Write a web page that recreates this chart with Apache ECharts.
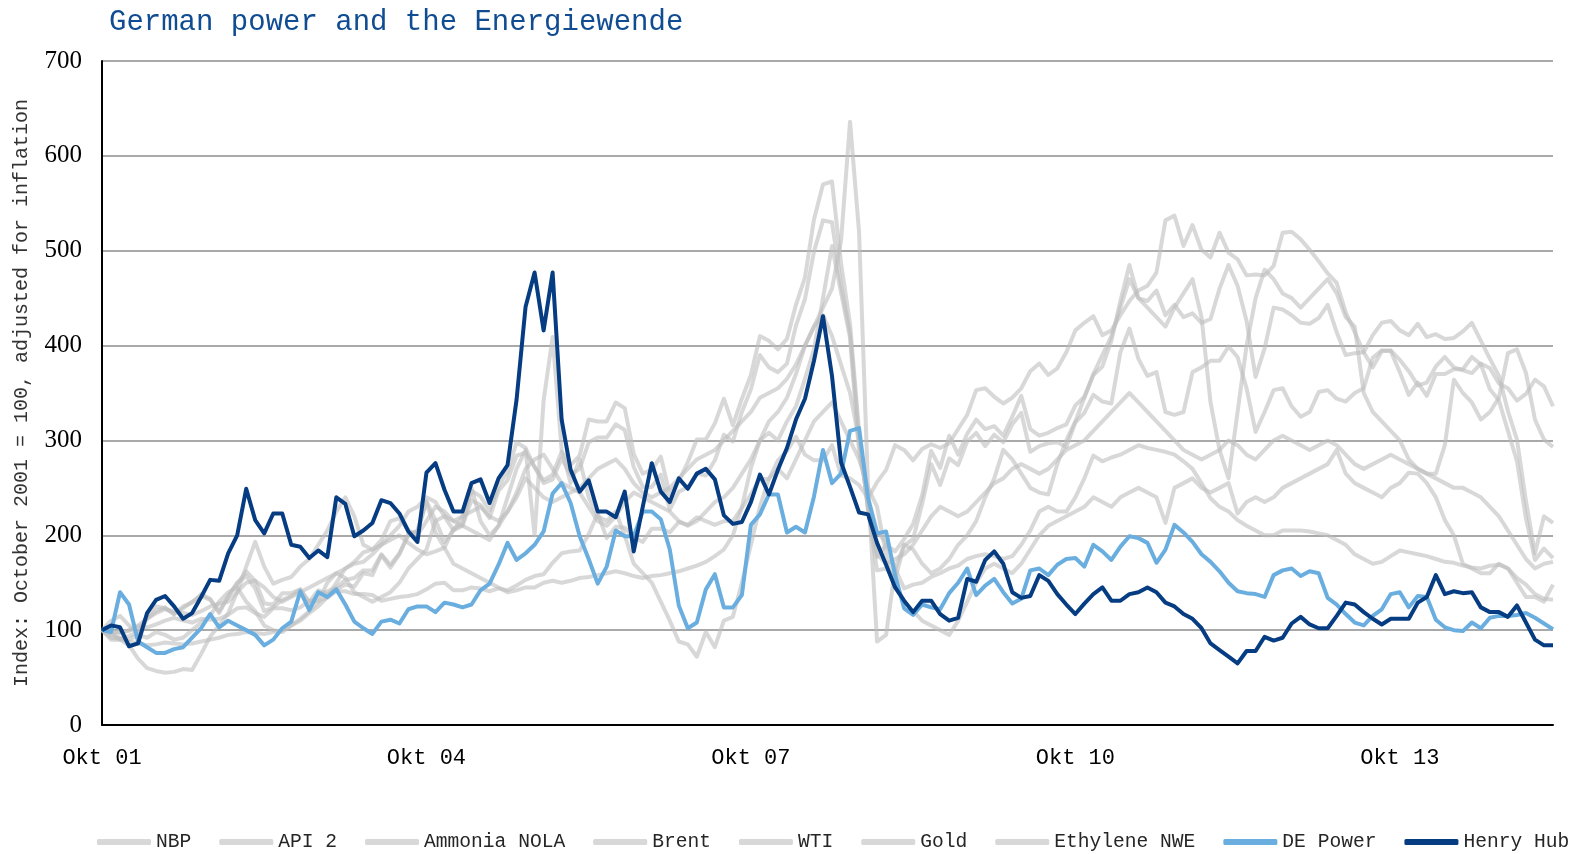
<!DOCTYPE html>
<html>
<head>
<meta charset="utf-8">
<title>German power and the Energiewende</title>
<script src="https://cdn.jsdelivr.net/npm/echarts@6/dist/echarts.min.js"></script>
<style>
  html, body { margin: 0; padding: 0; background: #fff; }
  #chart { width: 1587px; height: 854px; }
</style>
</head>
<body>
<div id="chart"></div>
<script>
// monthly index, Oct 2001 = 100, up to Mar 2015 (162 months)
const monthNames = ['Okt', 'Nov', 'Dez', 'Jan', 'Feb', 'Mär', 'Apr', 'Mai', 'Jun', 'Jul', 'Aug', 'Sep']
const months = []
for (let i = 0; i < 162; i++) {
  let yy = 1 + Math.floor((i + 9) / 12)
  months.push(monthNames[i % 12] + ' ' + String(yy).padStart(2, '0'))
}

const nbp = [
  100, 110, 115, 105, 95, 92, 98, 95, 90, 92, 100, 108,
  115, 130, 140, 145, 130, 120, 105, 100, 98, 105, 112, 120,
  130, 150, 160, 155, 140, 135, 130, 135, 140, 150, 165, 175,
  185, 215, 220, 205, 220, 250, 215, 200, 210, 240, 270, 290,
  200, 342, 409, 290, 255, 280, 240, 220, 215, 225, 200, 170,
  160, 150, 130, 110, 88, 85, 72, 98, 82, 110, 114, 150,
  190, 230, 260, 270, 260, 280, 300, 320, 330, 340, 320, 300,
  280, 250, 230, 180, 150, 130, 120, 110, 105, 100, 95, 110,
  130, 150, 165, 170, 165, 160, 170, 185, 200, 210, 215, 220,
  225, 230, 240, 235, 230, 240, 245, 250, 245, 240, 213, 250,
  255, 260, 250, 245, 250, 255, 223, 235, 240, 235, 240, 250,
  255, 260, 265, 270, 275, 290, 265, 255, 250, 245, 240, 250,
  255, 266, 265, 255, 240, 216, 200, 170, 165, 160, 160, 170,
  165, 150, 135, 135, 130, 148
]
const api2 = [
  100, 95, 92, 88, 86, 84, 85, 87, 86, 85, 86, 88,
  90, 92, 95, 96, 98, 97, 96, 98, 100, 105, 110, 118,
  125, 135, 150, 165, 172, 182, 185, 190, 195, 200, 192, 185,
  180, 183, 187, 170, 165, 160, 155, 150, 145, 140, 142, 145,
  145, 150, 152, 150, 152, 155, 156, 158, 160, 162, 160, 157,
  155, 157, 158, 160, 162, 165, 168, 172, 178, 185, 200, 230,
  271, 300, 308, 300, 320, 336, 365, 396, 450, 505, 456, 408,
  288, 240, 204, 192, 165, 144, 148, 150, 156, 160, 165, 168,
  175, 178, 180, 178, 175, 178, 190, 205, 225, 230, 225, 225,
  240, 260, 284, 278, 282, 285, 290, 295, 292, 290, 288, 285,
  278, 270, 255, 239, 230, 225, 216, 210, 205, 200, 200, 205,
  205, 205, 204, 202, 200, 195, 190, 180, 175, 170, 172, 178,
  184, 182, 180, 178, 175, 172, 171, 168, 166, 165, 168, 169,
  165, 155, 148, 138, 133, 132
]
const ammonia = [
  100, 97, 90, 84, 70, 60, 57, 55, 56, 59, 58, 75,
  93, 105, 118, 140, 167, 193, 167, 149, 153, 156, 167, 175,
  190, 205, 225, 240, 220, 190, 185, 195, 215, 218, 205, 200,
  215, 230, 225, 215, 210, 205, 200, 195, 210, 225, 245, 270,
  280, 285, 270, 255, 250, 245, 230, 215, 210, 220, 235, 245,
  240, 235, 230, 225, 215, 210, 215, 225, 235, 240, 250, 265,
  280, 300, 320, 330, 345, 370, 400, 420, 440, 460, 510, 636,
  520, 250, 88, 95, 165, 190, 185, 170, 160, 165, 175, 190,
  200, 215, 240, 260, 290, 280, 265, 250, 245, 243, 275, 300,
  320, 345, 370, 390, 410, 440, 470, 450, 440, 430, 420, 440,
  455, 470, 430, 340, 290, 260, 330, 400, 450, 480, 470, 455,
  450, 440, 450, 460, 470, 455, 430, 420, 350, 330, 320, 310,
  300, 280, 270, 265, 265, 295, 364, 350, 340, 322, 330, 345,
  392, 396, 371, 322, 301, 293
]
const brent = [
  100, 92, 91, 94, 98, 115, 125, 123, 117, 125, 129, 138,
  133, 118, 136, 150, 157, 144, 120, 124, 132, 136, 143, 130,
  142, 138, 143, 148, 146, 160, 158, 179, 166, 180, 202, 204,
  235, 203, 187, 207, 211, 247, 241, 226, 252, 267, 298, 292,
  272, 258, 264, 288, 274, 284, 322, 320, 320, 340, 334, 286,
  265, 269, 283, 243, 257, 277, 301, 301, 318, 344, 316, 344,
  369, 410, 405, 396, 407, 443, 472, 533, 570, 573, 487, 423,
  310, 226, 177, 190, 183, 196, 212, 242, 289, 271, 305, 285,
  307, 322, 312, 315, 305, 325, 347, 312, 305, 308, 313, 317,
  337, 346, 369, 378, 405, 447, 485, 450, 447, 458, 432, 443,
  430, 434, 424, 428, 460, 485, 463, 426, 367, 397, 440, 438,
  432, 424, 423, 429, 443, 414, 390, 392, 393, 411, 424, 426,
  416, 411, 423, 409, 412, 407, 408, 415, 424, 405, 386, 368,
  331, 301, 236, 181, 220, 213
]
const wti = [
  100, 90, 90, 90, 95, 112, 120, 124, 117, 123, 130, 136,
  132, 120, 135, 149, 162, 152, 128, 127, 139, 139, 143, 128,
  137, 141, 145, 153, 155, 163, 163, 180, 169, 181, 200, 205,
  236, 216, 193, 205, 210, 237, 232, 218, 247, 258, 284, 287,
  272, 255, 259, 281, 264, 270, 298, 303, 303, 317, 311, 272,
  251, 251, 264, 227, 246, 251, 265, 263, 279, 306, 299, 330,
  354, 390, 377, 372, 381, 421, 449, 499, 532, 530, 464, 413,
  304, 227, 163, 165, 154, 189, 196, 233, 275, 253, 281, 274,
  299, 308, 294, 306, 298, 317, 329, 288, 294, 297, 298, 293,
  319, 329, 348, 341, 339, 393, 418, 386, 368, 372, 330, 327,
  330, 372, 377, 384, 384, 399, 388, 355, 309, 330, 353, 355,
  336, 325, 330, 351, 353, 344, 341, 350, 355, 387, 395, 394,
  372, 348, 361, 347, 370, 370, 375, 375, 388, 380, 354, 342,
  310, 278, 218, 174, 186, 176
]
const gold = [
  100, 98, 98, 99, 104, 103, 106, 110, 113, 110, 108, 112,
  111, 112, 116, 123, 124, 118, 114, 123, 123, 121, 124, 131,
  131, 134, 141, 141, 138, 138, 137, 131, 133, 135, 136, 138,
  143, 149, 150, 142, 142, 145, 144, 141, 144, 142, 147, 153,
  157, 159, 171, 181, 183, 184, 201, 223, 197, 209, 208, 198,
  193, 207, 207, 203, 214, 211, 219, 215, 211, 215, 215, 229,
  243, 260, 259, 279, 289, 304, 285, 279, 279, 295, 263, 260,
  253, 239, 256, 269, 295, 290, 279, 291, 296, 292, 297, 312,
  327, 353, 355, 346, 339, 345, 355, 373, 381, 369, 376, 393,
  416, 424, 431, 411, 416, 432, 447, 458, 463, 477, 532, 537,
  505, 527, 501, 493, 519, 498, 491, 474, 475, 474, 484, 519,
  520, 512, 501, 489, 476, 466, 435, 414, 393, 377, 394, 395,
  385, 373, 358, 361, 378, 388, 377, 374, 371, 381, 376, 360,
  355, 342, 349, 364, 357, 336
]
const ethylene = [
  100, 98, 97, 100, 105, 112, 118, 122, 120, 118, 116, 120,
  125, 128, 130, 140, 150, 152, 145, 135, 130, 135, 140, 145,
  150, 155, 160, 165, 170, 172, 180, 190, 200, 210, 225, 230,
  240, 235, 220, 215, 220, 225, 230, 220, 215, 225, 240, 260,
  250, 240, 235, 240, 245, 250, 260, 270, 275, 280, 270, 255,
  245, 240, 245, 250, 260, 270, 280, 285, 290, 300, 310, 320,
  330, 345, 350, 355, 365, 380, 400, 420, 432, 410, 380, 350,
  300, 230, 180, 170, 175, 180, 190, 205, 220, 230, 225, 220,
  225, 235, 245, 255, 260, 270, 275, 270, 265, 270, 280, 290,
  295, 300, 310, 320, 330, 340, 350, 340, 330, 320, 310, 300,
  290, 285, 280, 285, 290, 300, 295, 285, 280, 290, 300, 305,
  300, 295, 290, 295, 300, 295, 285, 275, 270, 275, 280, 285,
  280, 275, 270, 265, 260, 255, 250, 250, 245, 240, 230, 220,
  205, 190, 175, 165, 170, 172
]
const dePower = [
  100, 98, 140, 127, 88, 82, 76, 76, 80, 82, 92, 102,
  117, 103, 110, 105, 100, 95, 84, 90, 102, 109, 141, 121,
  140, 135, 143, 127, 109, 102, 96, 109, 111, 107, 122, 125,
  125, 119, 129, 127, 124, 127, 142, 149, 169, 192, 174, 181,
  190, 204, 244, 255, 234, 199, 175, 149, 167, 205, 199, 199,
  225, 225, 217, 185, 126, 102, 108, 143, 159, 124, 124, 137,
  211, 222, 243, 243, 203, 209, 203, 241, 290, 255, 265, 310,
  313, 239, 202, 204, 158, 123, 116, 127, 124, 122, 139, 150,
  165, 137, 147, 154, 140, 128, 133, 163, 165, 158, 169, 175,
  176, 167, 190, 183, 174, 188, 199, 197, 192, 171, 185, 211,
  203, 193, 180, 172, 162, 150, 141, 139, 138, 135, 158, 163,
  165, 157, 162, 160, 134, 127, 117, 108, 105, 115, 122, 138,
  140, 124, 136, 135, 111, 103, 100, 99, 108, 102, 113, 115,
  115, 116, 118, 113, 107, 101
]
const henryHub = [
  100, 105, 103, 83, 86, 118, 132, 136, 125, 112, 118, 135,
  153, 152, 181, 200, 249, 216, 202, 223, 223, 190, 188, 176,
  184, 177, 240, 233, 199, 205, 213, 237, 234, 223, 204, 193,
  266, 276, 248, 225, 225, 255, 259, 234, 260, 274, 343, 441,
  477, 416, 477, 322, 269, 246, 258, 225, 225, 219, 246, 183,
  230, 276, 246, 235, 260, 249, 265, 270, 259, 221, 212, 214,
  235, 264, 243, 269, 292, 322, 344, 384, 431, 368, 277, 251,
  224, 222, 192, 169, 145, 131, 119, 131, 131, 117, 110, 113,
  154, 151, 174, 183, 170, 140, 134, 136, 158, 152, 138, 127,
  117, 128, 138, 145, 131, 131, 138, 140, 145, 140, 129, 125,
  117, 112, 102, 86, 79, 72, 65, 78, 78, 93, 89, 92,
  107, 114, 106, 102, 102, 115, 129, 127, 119, 112, 106, 112,
  112, 112, 129, 135, 158, 138, 141, 139, 140, 124, 119, 119,
  114, 126, 108, 90, 84, 84
]

const grey = 'rgba(190, 190, 190, 0.6)'
const greySeries = [
  ['NBP', nbp], ['API 2', api2], ['Ammonia NOLA', ammonia], ['Brent', brent],
  ['WTI', wti], ['Gold', gold], ['Ethylene NWE', ethylene]
]

function lineSeries (name, data, color) {
  return {
    name: name,
    type: 'line',
    data: data,
    showSymbol: false,
    symbol: 'none',
    lineStyle: { color: color, width: 4, join: 'round' },
    itemStyle: { color: color }
  }
}

let series = greySeries.map(s => lineSeries(s[0], s[1], grey))
series.push(lineSeries('DE Power', dePower, '#6aaee0'))
series.push(lineSeries('Henry Hub', henryHub, '#063d82'))

let myChart = echarts.init(document.getElementById('chart'))
let option = {
  animation: false,
  backgroundColor: '#fff',
  title: {
    text: 'German power and the Energiewende',
    left: 104,
    top: 3,
    textStyle: {
      fontFamily: 'Liberation Mono',
      fontSize: 29,
      fontWeight: 'normal',
      color: '#0f4c92'
    }
  },
  legend: {
    left: 97,
    bottom: 2,
    padding: 0,
    width: 1490,
    itemWidth: 54,
    itemHeight: 6,
    itemGap: 28,
    icon: 'roundRect',
    textStyle: { fontFamily: 'Liberation Mono', fontSize: 19.6, color: '#262626' },
    data: ['NBP', 'API 2', 'Ammonia NOLA', 'Brent', 'WTI', 'Gold', 'Ethylene NWE', 'DE Power', 'Henry Hub']
  },
  grid: { left: 102, right: 34, top: 61, bottom: 129 },
  xAxis: {
    type: 'category',
    data: months,
    boundaryGap: false,
    axisLine: { lineStyle: { color: '#000', width: 2 } },
    axisTick: { show: false },
    axisLabel: {
      interval: function (index) { return index % 36 === 0 },
      margin: 22,
      fontFamily: 'Liberation Mono',
      fontSize: 22,
      color: '#000'
    },
    splitLine: { show: false }
  },
  yAxis: {
    type: 'value',
    min: 0,
    max: 700,
    interval: 100,
    name: 'Index: October 2001 = 100, adjusted for inflation',
    nameLocation: 'middle',
    nameGap: 70,
    nameTextStyle: { fontFamily: 'Liberation Mono', fontSize: 20, color: '#333' },
    axisLine: { show: true, lineStyle: { color: '#000', width: 2 } },
    axisTick: { show: false },
    axisLabel: { fontFamily: 'Liberation Serif', fontSize: 25, color: '#000', margin: 20 },
    splitLine: { lineStyle: { color: '#a9a9a9', width: 2 } }
  },
  series: series
}
myChart.setOption(option)
</script>
</body>
</html>
